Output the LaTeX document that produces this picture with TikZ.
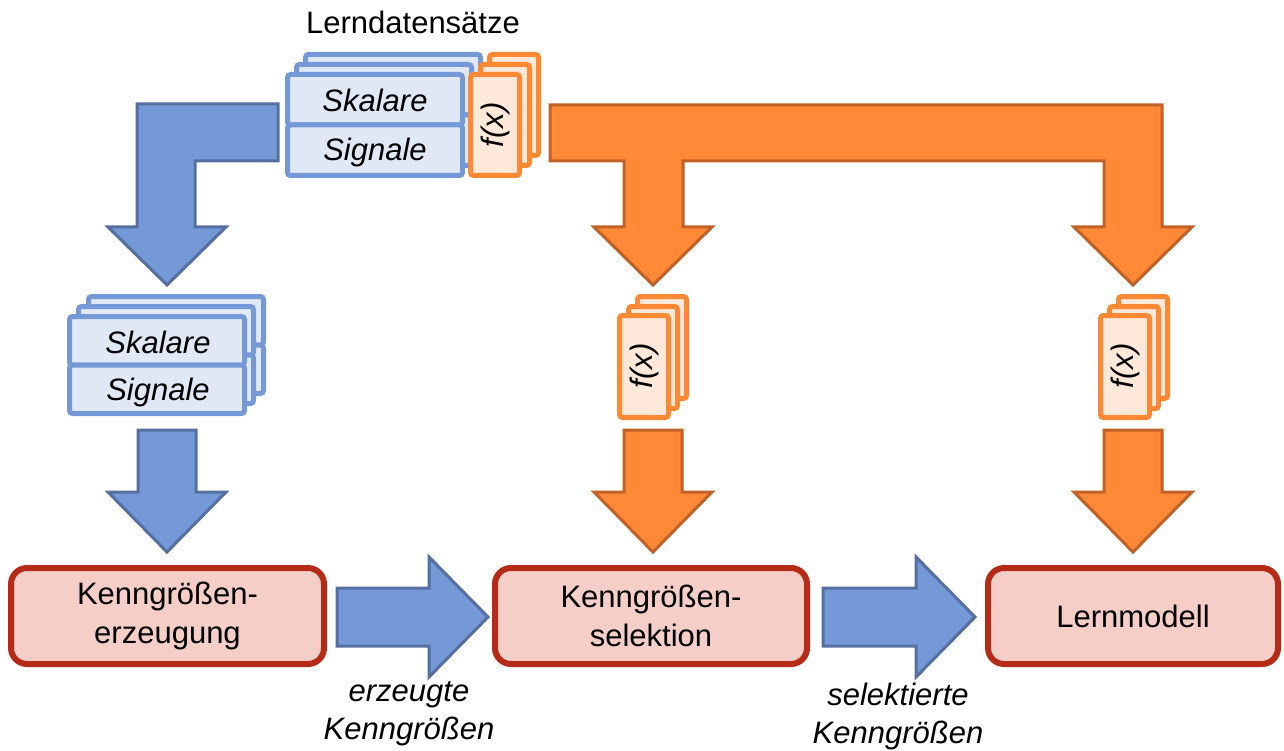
\documentclass[tikz,border=0pt]{standalone}
\usepackage{fontspec}
\setmainfont{Liberation Sans}
\usetikzlibrary{calc}
\begin{document}
\begin{tikzpicture}[x=1pt,y=-1pt]
\definecolor{cardblue}{RGB}{116,153,214}
\definecolor{cardbluefill}{RGB}{225,232,245}
\definecolor{cardorange}{RGB}{255,136,50}
\definecolor{cardorangefill}{RGB}{253,232,217}
\definecolor{arrblue}{RGB}{117,152,214}
\definecolor{arrblueline}{RGB}{84,111,160}
\definecolor{arrorange}{RGB}{255,137,54}
\definecolor{arrorangeline}{RGB}{192,98,40}
\definecolor{procline}{RGB}{182,42,24}
\definecolor{procfill}{RGB}{246,206,200}
\tikzset{
  txt/.style={font=\fontsize{31}{38}\selectfont, inner sep=0pt},
  itxt/.style={font=\fontsize{31}{38}\selectfont\itshape, inner sep=0pt, align=center},
  bluecard/.style={draw=cardblue, fill=cardbluefill, line width=5pt, rounded corners=3pt},
  orangecard/.style={draw=cardorange, fill=cardorangefill, line width=5pt, rounded corners=3pt},
  bluearrow/.style={draw=arrblueline, fill=arrblue, line width=3pt, line join=miter},
  orangearrow/.style={draw=arrorangeline, fill=arrorange, line width=3pt, line join=miter},
  process/.style={draw=procline, fill=procfill, line width=6pt, rounded corners=16pt,
    minimum height=96pt, align=center, font=\fontsize{31}{39}\selectfont, inner sep=0pt},
}
% one card of a stack: left, top, width, height (outer edges)
\newcommand\bluelayer[4]{%
  \draw[bluecard] ({#1+2.5},{#2+2.5}) rectangle ({#1+#3-2.5},{#2+#4/2});
  \draw[bluecard] ({#1+2.5},{#2+#4/2}) rectangle ({#1+#3-2.5},{#2+#4-2.5});}
\newcommand\orangelayer[4]{%
  \draw[orangecard] ({#1+2.5},{#2+2.5}) rectangle ({#1+#3-2.5},{#2+#4-2.5});}
% block arrows: style, tail centre, tip
\newcommand\blockright[3]{%
  \draw[#1] let \p1=(#2), \p2=(#3) in
    (\x1,{\y1+29pt}) -- ({\x2-59pt},{\y1+29pt}) -- ({\x2-59pt},{\y1+60pt}) -- (\x2,\y1)
    -- ({\x2-59pt},{\y1-60pt}) -- ({\x2-59pt},{\y1-29pt}) -- (\x1,{\y1-29pt}) -- cycle;}
\newcommand\blockdown[3]{%
  \draw[#1] let \p1=(#2), \p2=(#3) in
    ({\x1-29pt},\y1) -- ({\x1+29pt},\y1) -- ({\x1+29pt},{\y2+60pt}) -- ({\x1+59pt},{\y2+60pt})
    -- (\x1,\y2) -- ({\x1-59pt},{\y2+60pt}) -- ({\x1-29pt},{\y2+60pt}) -- cycle;}

\useasboundingbox (0,0) rectangle (1284,751);

% training data sets
\node[txt] (title) at (413,22) {Lerndatensätze};
\bluelayer{303}{52}{180}{106}
\orangelayer{487}{52}{54}{106}
\bluelayer{294}{62}{180}{106}
\orangelayer{478}{62}{54}{106}
\bluelayer{285}{72}{180}{106}
\orangelayer{468}{72}{54}{106}
\node[itxt] (skA) at (375,100) {Skalare};
\node[itxt] (sigA) at (375,152) {Signale};
\node[itxt, rotate=90] (fA) at (495,125) {f(x)};

% scalar and signal stack
\bluelayer{86}{294}{180}{102}
\bluelayer{76}{304}{180}{102}
\bluelayer{67}{314}{180}{102}
\node[itxt] (skB) at (158,342) {Skalare};
\node[itxt] (sigB) at (158,392) {Signale};

% f(x) stacks
\orangelayer{635}{294}{54}{107}
\orangelayer{626}{304}{54}{107}
\orangelayer{617}{313}{54}{107}
\node[itxt, rotate=90] (fB) at (644,366) {f(x)};
\orangelayer{1116}{294}{54}{107}
\orangelayer{1107}{304}{54}{107}
\orangelayer{1098}{313}{54}{107}
\node[itxt, rotate=90] (fC) at (1125,366) {f(x)};

% process boxes
\node[process, minimum width=313pt] (gen) at (167.5,616) {Kenngrößen-\\erzeugung};
\node[process, minimum width=312pt] (sel) at (651,616) {Kenngrößen-\\selektion};
\node[process, minimum width=290pt] (model) at (1133,616) {Lernmodell};

% arrow labels
\node[itxt] (lgen) at (409,714) {erzeugte\\Kenngrößen};
\node[itxt] (lsel) at (898,716) {selektierte\\Kenngrößen};

% bent arrow from the data sets to the scalar/signal stack
\draw[bluearrow] (137,104) -- (278,104) -- (278,161) -- (195,161) -- (195,227) -- (226,227)
  -- (167,285) -- (108,227) -- (137,227) -- cycle;
% branching arrow from f(x) to both lower stacks
\draw[orangearrow] (550,105) -- (1162,105) -- (1162,227) -- (1192,227) -- (1133,285)
  -- (1074,227) -- (1104,227) -- (1104,161) -- (683,161) -- (683,227) -- (712,227)
  -- (653,285) -- (594,227) -- (624,227) -- (624,161) -- (550,161) -- cycle;

% straight arrows
\coordinate (dA) at (167,430);  \coordinate (dAt) at (167,552);
\coordinate (dB) at (653,430);  \coordinate (dBt) at (653,552);
\coordinate (dC) at (1133,430); \coordinate (dCt) at (1133,552);
\blockdown{bluearrow}{dA}{dAt}
\blockdown{orangearrow}{dB}{dBt}
\blockdown{orangearrow}{dC}{dCt}
\coordinate (rA) at (337,617); \coordinate (rAt) at (488,617);
\coordinate (rB) at (823,617); \coordinate (rBt) at (975,617);
\blockright{bluearrow}{rA}{rAt}
\blockright{bluearrow}{rB}{rBt}
\end{tikzpicture}
\end{document}
